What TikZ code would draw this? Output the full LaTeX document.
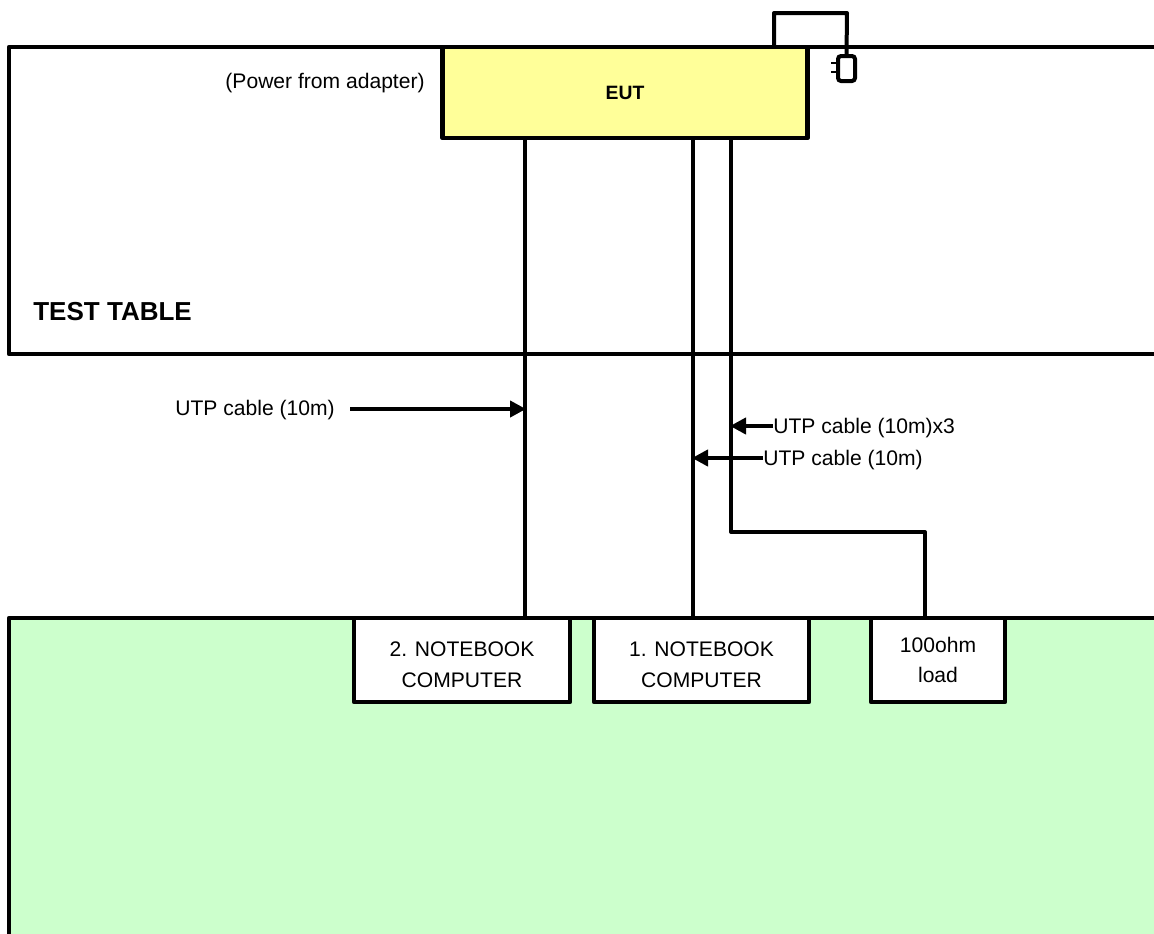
\documentclass[tikz,border=0pt]{standalone}
\usepackage{fontspec}
\setmainfont{Liberation Sans}
\usetikzlibrary{arrows.meta}
\definecolor{TableFill}{HTML}{FFFFFF}
\definecolor{EutFill}{HTML}{FFFF99}
\definecolor{FloorFill}{HTML}{CCFFCC}
\newcommand{\pxu}{0.02cm}
\newcommand{\dropline}{\rule{0pt}{0.5cm}}
\tikzset{
  wire/.style={black,line width=0.08cm,line join=round},
  feed/.style={wire,-{Triangle[length=0.32cm,width=0.32cm]},shorten >=-0.02cm},
  devbox/.style={draw=black,line width=0.09cm,line join=round,inner sep=0pt,outer sep=0pt,align=center,font=\fontsize{12}{17.6}\selectfont},
  lbl/.style={inner sep=0pt,font=\fontsize{12}{14}\selectfont}
}
\begin{document}
\begin{tikzpicture}[x=\pxu,y=-\pxu]
    \useasboundingbox (0,0) rectangle (1154,934);
    \clip (0,0) rectangle (1154,934);
    \node[devbox,fill=TableFill,anchor=north west,minimum width=1160*\pxu,minimum height=307*\pxu] (testtable) at (9,47) {};
    \node[devbox,fill=FloorFill,anchor=north west,minimum width=1160*\pxu,minimum height=340*\pxu] (floorarea) at (9,618) {};
    \node[devbox,fill=EutFill,minimum width=365*\pxu,minimum height=91*\pxu,font=\bfseries\fontsize{11}{13}\selectfont] (eut) at (625,92.5) {EUT};
    \node[devbox,fill=white,minimum width=216*\pxu,minimum height=84*\pxu] (notebooktwo) at (462,660) {\dropline 2. NOTEBOOK\\COMPUTER};
    \node[devbox,fill=white,minimum width=215*\pxu,minimum height=84*\pxu] (notebookone) at (701.5,660) {\dropline 1. NOTEBOOK\\COMPUTER};
    \node[devbox,fill=white,minimum width=134*\pxu,minimum height=84*\pxu,font=\fontsize{12}{17}\selectfont] (loadbox) at (938,660) {100ohm\\load};
    \node[draw=black,line width=0.08cm,rounded corners=0.06cm,fill=white,outer sep=0pt,minimum width=17*\pxu,minimum height=25*\pxu,inner sep=0pt] (plug) at (846.5,68.5) {};
    \node[lbl,anchor=east] (powerlbl) at (425,83) {(Power from adapter)};
    \node[lbl,anchor=west,font=\bfseries\fontsize{14.8}{17}\selectfont] (tablelbl) at (33,312) {TEST TABLE};
    \node[lbl,anchor=west] (cablelbltwo) at (175,410) {UTP cable (10m)};
    \node[lbl,anchor=west] (cablelblthree) at (773,428) {UTP cable (10m)x3};
    \node[lbl,anchor=west] (cablelblone) at (763,460) {UTP cable (10m)};
    \coordinate (cabletwo) at (525,0);
    \coordinate (cableone) at (693,0);
    \coordinate (cableload) at (731,0);
    \coordinate (bend) at (0,532);
    \draw[wire] (eut.south -| cabletwo) -- (notebooktwo.north -| cabletwo);
    \draw[wire] (eut.south -| cableone) -- (notebookone.north -| cableone);
    \draw[wire] (eut.south -| cableload) -- (bend -| cableload) -| (loadbox.north -| 925,0);
    \draw[wire] (eut.north -| 774,0) |- (847,13) -- (plug.north);
    \foreach \y in {63,72} {
      \draw[black,line width=0.03cm] (plug.west |- 0,\y) -- ++(-7,0);
    }
    \draw[feed] (350,409) -- (350,409 -| cabletwo);
    \draw[feed] (773,426) -- (773,426 -| cableload);
    \draw[feed] (763,458) -- (763,458 -| cableone);
  \end{tikzpicture}
\end{document}
